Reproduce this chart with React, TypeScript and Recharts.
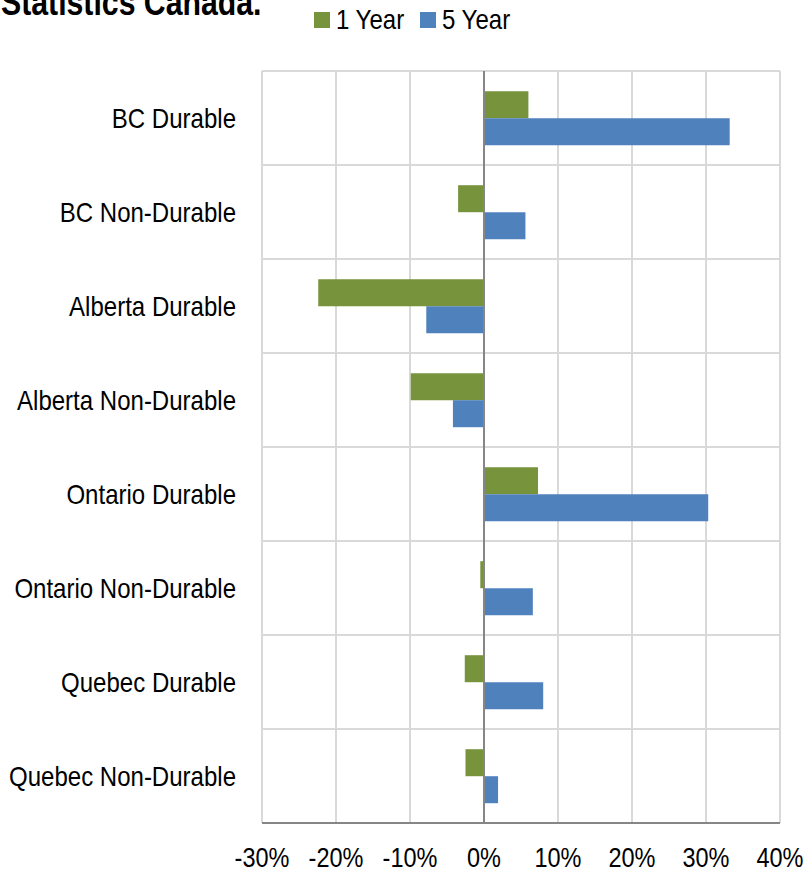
import React from 'react';
import { BarChart, Bar, XAxis, YAxis, CartesianGrid, ReferenceLine, Legend } from 'recharts';

// Retail sales growth by province and goods type
const categories = [
  'BC Durable',
  'BC Non-Durable',
  'Alberta Durable',
  'Alberta Non-Durable',
  'Ontario Durable',
  'Ontario Non-Durable',
  'Quebec Durable',
  'Quebec Non-Durable',
];
const oneYear = [6.0, -3.5, -22.4, -9.9, 7.3, -0.5, -2.6, -2.5];
const fiveYear = [33.2, 5.6, -7.8, -4.2, 30.3, 6.6, 8.0, 1.9];
const xTicks = [-30, -20, -10, 0, 10, 20, 30, 40];
const seriesNames = ['1 Year', '5 Year'];
const seriesColors = ['#77933C', '#4F81BD'];

const FONT = '"Liberation Sans", Arial, sans-serif';
// condensed look: horizontally squeeze the regular face
const SQUEEZE = 0.87;
const LABEL_SQUEEZE = 0.89;
const LEGEND_HEIGHT = 40;

const data = categories.map((name, i) => ({
  name,
  oneYear: oneYear[i],
  fiveYear: fiveYear[i],
}));

const CategoryTick = (props: any) => {
  const { x, y, payload } = props;
  return (
    <g transform={`translate(${x},${y})`}>
      <text
        transform={`scale(${LABEL_SQUEEZE},1)`}
        textAnchor="end"
        dy="0.355em"
        fontSize={27}
        fontFamily={FONT}
        fill="#000"
      >
        {payload.value}
      </text>
    </g>
  );
};

const PercentTick = (props: any) => {
  const { x, y, payload } = props;
  return (
    <g transform={`translate(${x},${y})`}>
      <text
        transform={`scale(${SQUEEZE},1)`}
        textAnchor="middle"
        dy="0.71em"
        fontSize={27}
        fontFamily={FONT}
        fill="#000"
      >
        {`${payload.value}%`}
      </text>
    </g>
  );
};

const LegendContent = (props: any) => {
  const payload = props.payload || [];
  return (
    <svg width={230} height={LEGEND_HEIGHT} style={{ display: 'block' }}>
      {payload.map((entry: any, i: number) => (
        <g key={entry.value} transform={`translate(${i * 106}, 0)`}>
          <rect x={1} y={12} width={16} height={16} fill={entry.color} />
          <g transform="translate(23, 29)">
            <text transform={`scale(${LABEL_SQUEEZE},1)`} fontSize={27} fontFamily={FONT} fill="#000">
              {entry.value}
            </text>
          </g>
        </g>
      ))}
    </svg>
  );
};

export default function App() {
  return (
    <div style={{ position: 'absolute', left: 0, top: 0, width: 807, height: 872, overflow: 'hidden', background: '#fff' }}>
      <div
        style={{
          position: 'absolute',
          left: 1,
          top: -15,
          fontFamily: FONT,
          fontWeight: 700,
          fontSize: 36,
          lineHeight: '36px',
          whiteSpace: 'nowrap',
          color: '#000',
          transform: 'scaleX(0.84)',
          transformOrigin: 'left top',
        }}
      >
        Statistics Canada.
      </div>
      <BarChart
        width={807}
        height={872}
        data={data}
        layout="vertical"
        margin={{ top: 71 - LEGEND_HEIGHT, right: 27, left: 0, bottom: 0 }}
        barCategoryGap="21.5%"
        barGap={0}
      >
        <CartesianGrid
          stroke="#d9d9d9"
          strokeWidth={2}
          horizontalCoordinatesGenerator={({ offset }: any) =>
            categories.map((_, i) => offset.top + (offset.height / categories.length) * i)
          }
        />
        <XAxis
          type="number"
          domain={[-30, 40]}
          ticks={xTicks}
          axisLine={{ stroke: '#868686', strokeWidth: 2 }}
          tickLine={false}
          tickSize={0}
          tickMargin={25}
          height={49}
          interval={0}
          tick={<PercentTick />}
        />
        <YAxis
          type="category"
          dataKey="name"
          width={262}
          axisLine={false}
          tickLine={false}
          tickSize={0}
          tickMargin={26}
          interval={0}
          tick={<CategoryTick />}
        />
        <Legend
          content={<LegendContent />}
          verticalAlign="top"
          wrapperStyle={{ position: 'absolute', top: 0, left: 313, width: 230, height: LEGEND_HEIGHT }}
        />
        <Bar dataKey="oneYear" name={seriesNames[0]} fill={seriesColors[0]} isAnimationActive={false} />
        <Bar dataKey="fiveYear" name={seriesNames[1]} fill={seriesColors[1]} isAnimationActive={false} />
        <ReferenceLine x={0} stroke="#868686" strokeWidth={2} />
      </BarChart>
    </div>
  );
}
